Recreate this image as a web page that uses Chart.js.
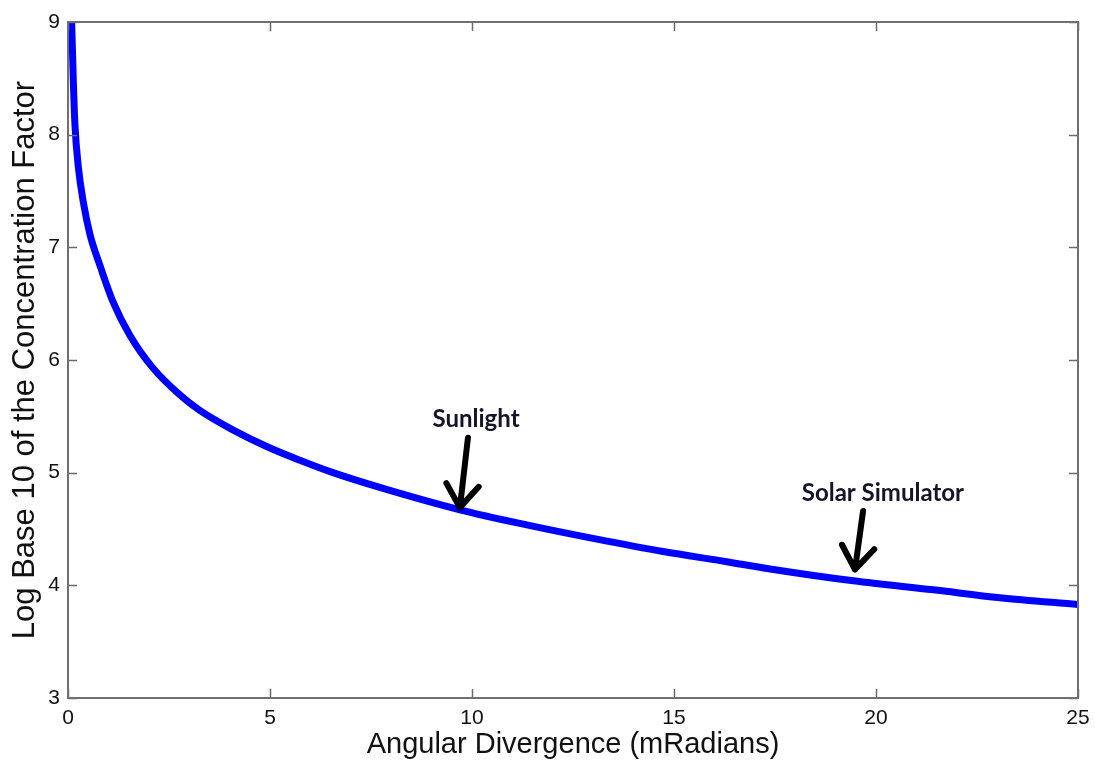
<!DOCTYPE html>
<html>
<head>
<meta charset="utf-8">
<script src="https://cdn.jsdelivr.net/npm/chart.js@4.4.1/dist/chart.umd.min.js"></script>
<style>
  html, body { margin: 0; padding: 0; background: #fff; }
  canvas { display: block; }
</style>
</head>
<body>
<canvas id="divergence_chart" width="1095" height="763"></canvas>
<script>
// angular divergence (mRad) vs log10 of concentration factor
const divergence = [0.09, 0.13, 0.17, 0.26, 0.38, 0.54, 0.79, 1.11, 1.53, 2.1, 2.77, 3.27, 4.08, 4.93, 5.74, 6.56, 7.8, 9.7, 11.44, 13.09, 14.73, 16.3, 17.3, 19.44, 21.42, 23.07, 25];
const logConcentration = [9.0, 8.5, 8.1, 7.7, 7.4, 7.12, 6.84, 6.52, 6.22, 5.93, 5.69, 5.55, 5.38, 5.23, 5.11, 5.0, 4.86, 4.67, 4.53, 4.41, 4.30, 4.21, 4.15, 4.04, 3.96, 3.89, 3.83];

const xTicks = [0, 5, 10, 15, 20, 25];
const yTicks = [3, 4, 5, 6, 7, 8, 9];

// callouts: label position, arrow tail, arrow tip (data units)
const callouts = [
  { text: "Sunlight", label: [10.1, 5.47], tail: [9.9, 5.31], tip: [9.7, 4.69] },
  { text: "Solar Simulator", label: [20.17, 4.82], tail: [19.68, 4.66], tip: [19.48, 4.14] },
];

const points = divergence.map((x, i) => ({ x: x, y: logConcentration[i] }));

// matlab style box with inward ticks, plus the arrow callouts
const boxPlugin = {
  id: "box",
  afterDatasetsDraw(chart) {
    const { ctx, chartArea: a, scales } = chart;
    ctx.save();
    ctx.strokeStyle = "#6b6b6b";
    ctx.lineWidth = 1.5;
    const len = 9;
    ctx.beginPath();
    xTicks.forEach(v => {
      const px = Math.round(scales.x.getPixelForValue(v)) + 0.5;
      ctx.moveTo(px, a.bottom); ctx.lineTo(px, a.bottom - len);
      ctx.moveTo(px, a.top); ctx.lineTo(px, a.top + len);
    });
    yTicks.forEach(v => {
      const py = Math.round(scales.y.getPixelForValue(v)) + 0.5;
      ctx.moveTo(a.left, py); ctx.lineTo(a.left + len, py);
      ctx.moveTo(a.right, py); ctx.lineTo(a.right - len, py);
    });
    ctx.stroke();
    ctx.lineWidth = 2;
    ctx.strokeStyle = "#707070";
    ctx.strokeRect(a.left, a.top, a.right - a.left, a.bottom - a.top);
    ctx.restore();
  },
  afterDraw(chart) {
    const { ctx, scales } = chart;
    const px = p => [scales.x.getPixelForValue(p[0]), scales.y.getPixelForValue(p[1])];
    ctx.save();
    callouts.forEach(c => {
      const [lx, ly] = px(c.label);
      ctx.font = "bold 24px Lato, 'Open Sans', sans-serif";
      ctx.fillStyle = "#14142a";
      ctx.textAlign = "center";
      ctx.textBaseline = "middle";
      ctx.fillText(c.text, lx, ly);

      const [tx, ty] = px(c.tail);
      const [hx, hy] = px(c.tip);
      ctx.strokeStyle = "#000";
      ctx.lineWidth = 6;
      ctx.lineCap = "round";
      ctx.lineJoin = "round";
      ctx.beginPath();
      ctx.moveTo(tx, ty);
      ctx.lineTo(hx, hy);
      const ang = Math.atan2(hy - ty, hx - tx);
      const head = 28;
      ctx.moveTo(hx - head * Math.cos(ang - 0.62), hy - head * Math.sin(ang - 0.62));
      ctx.lineTo(hx, hy);
      ctx.lineTo(hx - head * Math.cos(ang + 0.62), hy - head * Math.sin(ang + 0.62));
      ctx.stroke();
    });
    ctx.restore();
  },
};

const tickFont = { family: "'Liberation Sans', Arial, sans-serif", size: 21 };

new Chart("divergence_chart", {
  type: "line",
  data: {
    datasets: [{
      data: points,
      borderColor: "#0000ff",
      borderWidth: 7,
      pointRadius: 0,
      cubicInterpolationMode: "monotone",
      fill: false,
    }],
  },
  options: {
    responsive: false,
    animation: false,
    devicePixelRatio: 1,
    layout: { padding: { top: 22, right: 17, left: 0, bottom: 0 } },
    plugins: { legend: { display: false }, tooltip: { enabled: false } },
    scales: {
      x: {
        type: "linear",
        min: 0,
        max: 25,
        afterFit: s => { s.height = 65; s.paddingLeft = 0; s.paddingRight = 0; },
        afterBuildTicks: s => { s.ticks = xTicks.map(v => ({ value: v })); },
        grid: { display: false, drawTicks: false },
        border: { display: false },
        ticks: { color: "#111", padding: 8, font: tickFont },
        title: {
          display: true,
          text: "Angular Divergence (mRadians)",
          color: "#111",
          padding: { top: 0, bottom: 1 },
          font: { family: "'Liberation Sans', Arial, sans-serif", size: 29, lineHeight: 1.2 },
        },
      },
      y: {
        type: "linear",
        min: 3,
        max: 9,
        afterFit: s => { s.width = 68; s.paddingTop = 0; s.paddingBottom = 0; },
        afterBuildTicks: s => { s.ticks = yTicks.map(v => ({ value: v })); },
        grid: { display: false, drawTicks: false },
        border: { display: false },
        ticks: { color: "#111", padding: 8, font: tickFont },
        title: {
          display: true,
          text: "Log Base 10 of the Concentration Factor",
          color: "#111",
          padding: { top: 7, bottom: 0 },
          font: { family: "'Liberation Sans', Arial, sans-serif", size: 31, lineHeight: 1.2 },
        },
      },
    },
  },
  plugins: [boxPlugin],
});
</script>
</body>
</html>
